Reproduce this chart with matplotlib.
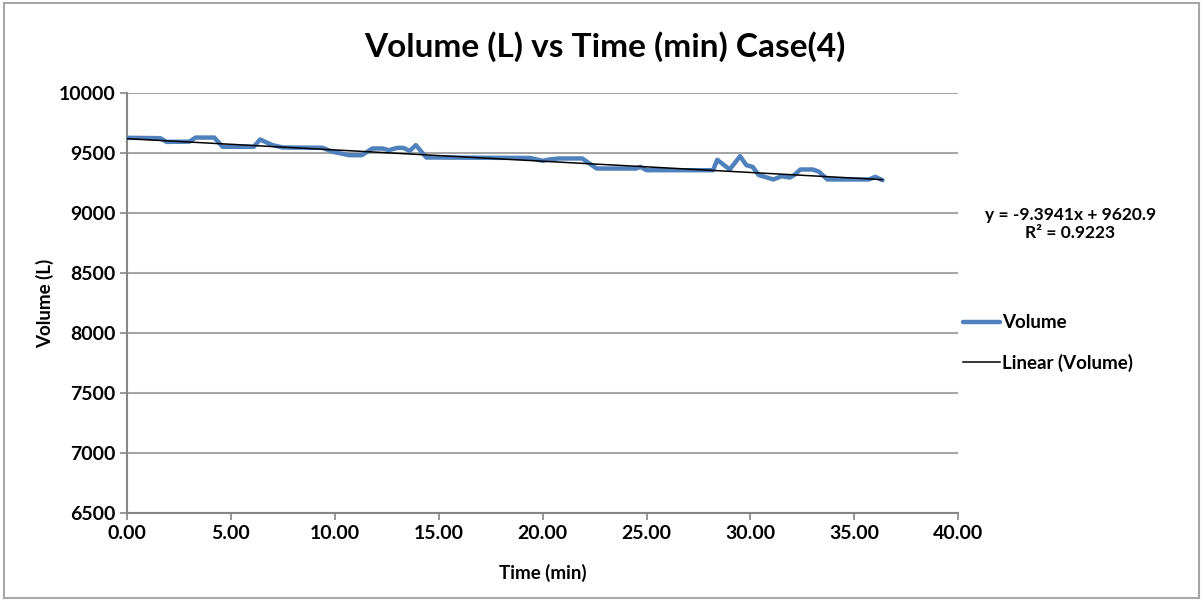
import matplotlib.pyplot as plt
import numpy as np
from matplotlib.patches import Rectangle

plt.rcParams['font.family'] = ['Lato', 'DejaVu Sans']
plt.rcParams['font.weight'] = 'bold'

# readings taken off the chart
time_min = [0, 1.6, 1.9, 3.0, 3.3, 4.2, 4.6, 6.1, 6.4, 7.0,
            7.5, 9.4, 9.9, 10.7, 11.3, 11.8, 12.3, 12.6, 13.0, 13.3,
            13.6, 13.9, 14.4, 19.4, 20.0, 20.3, 20.8, 21.9, 22.6, 24.5,
            24.7, 25.0, 28.2, 28.4, 29.0, 29.5, 29.8, 30.1, 30.4, 31.1,
            31.5, 31.9, 32.1, 32.4, 33.0, 33.3, 33.7, 35.7, 36.0, 36.35]
volume = [9628, 9625, 9594, 9596, 9630, 9630, 9553, 9553, 9614, 9567,
          9547, 9545, 9511, 9483, 9483, 9539, 9539, 9525, 9544, 9544,
          9519, 9567, 9464, 9460, 9436, 9447, 9456, 9456, 9372, 9372,
          9386, 9358, 9358, 9445, 9364, 9475, 9400, 9386, 9317, 9281,
          9308, 9297, 9317, 9364, 9364, 9345, 9281, 9281, 9303, 9275]

slope = -9.3941
intercept = 9620.9
r_squared = 0.9223

fig = plt.figure(figsize=(12.03, 6.01), dpi=100)
ax = fig.add_axes([0.1056, 0.146, 0.691, 0.699])

ax.plot(time_min, volume, color='#4F81BD', lw=3.2, solid_joinstyle='round',
        solid_capstyle='round', label='Volume', zorder=3)
tx = np.array([time_min[0], time_min[-1]])
ax.plot(tx, slope * tx + intercept, color='black', lw=1.1,
        label='Linear (Volume)', zorder=4)

ax.set_xlim(0, 40)
ax.set_ylim(6500, 10000)
ax.set_xticks(np.arange(0, 41, 5))
ax.set_xticklabels([f'{v:.2f}' for v in np.arange(0, 41, 5)])
ax.set_yticks(np.arange(6500, 10001, 500))
ax.yaxis.grid(True, color='#A6A6A6', lw=1.5)
ax.set_axisbelow(True)
for s in ['top', 'right']:
    ax.spines[s].set_visible(False)
for s in ['left', 'bottom']:
    ax.spines[s].set_color('#868686')
    ax.spines[s].set_linewidth(1.5)
ax.tick_params(axis='both', colors='#868686', length=5, width=1.2,
               labelsize=14, labelcolor='black')

fig.text(0.503, 0.922, 'Volume (L) vs Time (min) Case(4)', fontsize=24,
         fontweight='bold', ha='center', va='center')
ax.set_xlabel('Time (min)', fontsize=13.5, fontweight='bold', labelpad=16)
ax.set_ylabel('Volume (L)', fontsize=13.5, fontweight='bold', labelpad=3)

fig.text(0.961, 0.628, f'y = {slope}x + {intercept}\nR² = {r_squared}',
         ha='right', va='center', fontsize=12.5, fontweight='bold',
         multialignment='center', linespacing=1.15)

leg = ax.legend(loc='center left', bbox_to_anchor=(0.985, 0.405),
                frameon=False, fontsize=13.5, handlelength=2.0,
                labelspacing=1.2, handletextpad=0.1)

fig.patches.append(Rectangle((0.003, 0.005), 0.994, 0.99,
                             transform=fig.transFigure, fill=False,
                             edgecolor='#A6A6A6', lw=1.5))

fig.savefig('out.png', dpi=100)
